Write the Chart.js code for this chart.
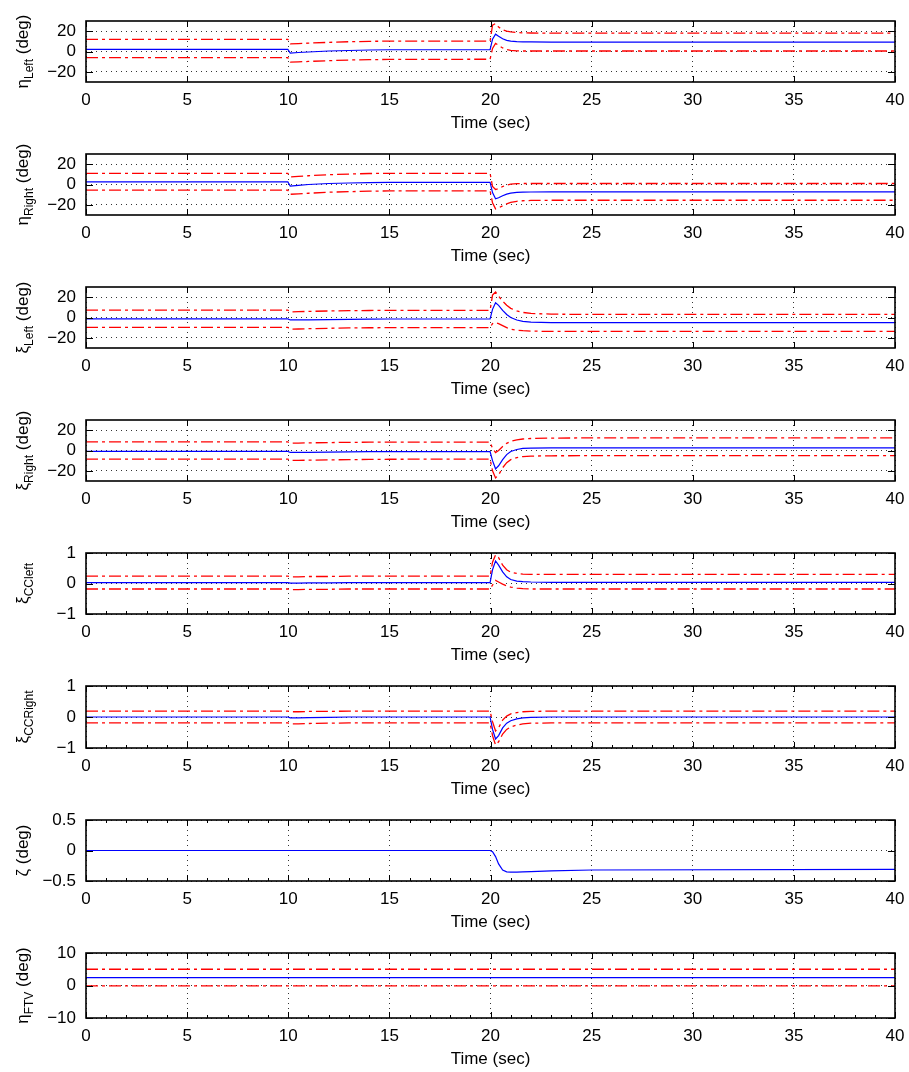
<!DOCTYPE html>
<html>
<head>
<meta charset="utf-8">
<script src="https://cdn.jsdelivr.net/npm/chart.js@4.4.0/dist/chart.umd.min.js"></script>
<style>
  html, body { margin: 0; padding: 0; background: #fff; }
  #wrap { position: relative; width: 909px; height: 1072px; overflow: hidden; }
  #wrap canvas { position: absolute; left: 0; }
</style>
</head>
<body>
<div id="wrap"></div>
<script>
// sample times (sec) shared by every trace
const time = [0, 9.98, 10.1, 10.5, 11, 12, 13, 14, 15, 19.98, 20.1, 20.25, 20.4, 20.6, 20.8, 21, 21.3, 21.6, 22, 23, 25, 40];
const xTicks = [0, 5, 10, 15, 20, 25, 30, 35, 40];

const etaLeft      = [2, 2, -1.5, -1, -0.5, 0.5, 1, 1.5, 1.7, 1.8, 12, 17, 15, 12.5, 11, 10.2, 9.7, 9.5, 9.4, 9.3, 9.3, 9.3];
const etaLeftUpper = [12, 12, 7.5, 7.8, 8.2, 9, 9.6, 10, 10.2, 10.3, 26, 27.5, 24, 21.5, 20, 19.2, 18.6, 18.3, 18.2, 18, 18, 18];
const etaLeftLower = [-6, -6, -10.5, -10.2, -9.8, -9, -8.4, -8, -7.8, -7.6, 3, 8, 6, 3.5, 2, 1.2, 0.7, 0.5, 0.5, 0.5, 0.5, 0.5];

const etaRight      = [2.5, 2.5, -1.5, -0.8, 0, 1, 1.5, 1.8, 2, 2, -8, -14, -13, -11, -9.5, -8.5, -7.8, -7.5, -7.4, -7.3, -7.3, -7.3];
const etaRightUpper = [11, 11, 7.5, 8, 8.6, 9.6, 10.3, 10.8, 11, 11, -2, -5, -4, -2, -0.5, 0.3, 0.8, 1, 1, 1, 1, 1];
const etaRightLower = [-5.6, -5.6, -9.6, -9.2, -8.6, -7.6, -7, -6.6, -6.3, -6.3, -18, -24, -23, -21, -19, -17.5, -16.5, -16, -15.7, -15.5, -15.5, -15.5];

const xiLeft      = [-1.4, -1.4, -2.4, -2.4, -2.3, -2, -1.8, -1.6, -1.5, -1.4, 8, 14.5, 12, 7, 3, 0, -2.5, -3.8, -4.5, -5, -5, -5];
const xiLeftUpper = [7.2, 7.2, 5.6, 5.7, 6, 6.4, 6.7, 6.9, 7, 7.1, 22, 25, 21, 16, 12, 9, 6.5, 5, 4, 3.3, 3, 3];
const xiLeftLower = [-9.8, -9.8, -11.4, -11.3, -11, -10.6, -10.3, -10.1, -10, -9.9, -6, -5, -6, -8, -10, -11.5, -12.5, -13, -13.4, -13.7, -13.7, -13.7];

const xiRight      = [-0.9, -0.9, -1.9, -1.9, -1.8, -1.6, -1.4, -1.2, -1.1, -1, -10, -18, -15, -9, -4, -1, 1, 2, 2.4, 2.5, 2.5, 2.5];
const xiRightUpper = [8.4, 8.4, 7.2, 7.3, 7.5, 7.8, 8, 8.2, 8.3, 8.3, 2, -2, 0, 4, 7, 9, 10.5, 11.3, 11.8, 12.2, 12.4, 12.4];
const xiRightLower = [-8.4, -8.4, -9.8, -9.7, -9.5, -9.2, -9, -8.8, -8.6, -8.5, -20, -27, -24, -17, -12, -9, -7, -6, -5.5, -5.2, -5.1, -5.1];

const xiCCLeft      = [0.03, 0.03, 0.01, 0.01, 0.02, 0.02, 0.03, 0.03, 0.03, 0.03, 0.45, 0.74, 0.6, 0.38, 0.22, 0.13, 0.08, 0.06, 0.05, 0.04, 0.04, 0.04];
const xiCCLeftUpper = [0.24, 0.24, 0.22, 0.22, 0.23, 0.23, 0.24, 0.24, 0.24, 0.24, 0.7, 0.94, 0.85, 0.6, 0.45, 0.37, 0.33, 0.31, 0.3, 0.3, 0.3, 0.3];
const xiCCLeftLower = [-0.18, -0.18, -0.2, -0.2, -0.19, -0.19, -0.18, -0.18, -0.18, -0.18, -0.05, 0.1, 0.05, -0.02, -0.08, -0.12, -0.15, -0.17, -0.18, -0.18, -0.18, -0.18];

const xiCCRight      = [0, 0, -0.03, -0.03, -0.02, -0.01, 0, 0, 0, 0, -0.4, -0.71, -0.6, -0.35, -0.2, -0.12, -0.06, -0.03, -0.01, 0, 0, 0];
const xiCCRightUpper = [0.19, 0.19, 0.17, 0.17, 0.18, 0.18, 0.19, 0.19, 0.19, 0.19, -0.15, -0.45, -0.35, -0.1, 0.03, 0.1, 0.14, 0.17, 0.18, 0.19, 0.19, 0.19];
const xiCCRightLower = [-0.19, -0.19, -0.22, -0.22, -0.21, -0.2, -0.19, -0.19, -0.19, -0.19, -0.6, -0.9, -0.8, -0.55, -0.4, -0.32, -0.26, -0.22, -0.2, -0.19, -0.19, -0.19];

const zeta = [0, 0, 0, 0, 0, 0, 0, 0, 0, 0, -0.02, -0.1, -0.22, -0.32, -0.35, -0.355, -0.355, -0.35, -0.345, -0.335, -0.32, -0.31];

const etaFTV      = [2.4, 2.4, 2.4, 2.4, 2.4, 2.4, 2.4, 2.4, 2.4, 2.4, 2.4, 2.4, 2.4, 2.4, 2.4, 2.4, 2.4, 2.4, 2.4, 2.4, 2.4, 2.4];
const etaFTVUpper = [5, 5, 5, 5, 5, 5, 5, 5, 5, 5, 5, 5, 5, 5, 5, 5, 5, 5, 5, 5, 5, 5];
const etaFTVLower = [-0.1, -0.1, -0.1, -0.1, -0.1, -0.1, -0.1, -0.1, -0.1, -0.1, -0.1, -0.1, -0.1, -0.1, -0.1, -0.1, -0.1, -0.1, -0.1, -0.1, -0.1, -0.1];

const panels = [
  { label: ['η', 'Left', ' (deg)'],  range: [-30, 30], yTicks: [-20, 0, 20], signal: etaLeft, upper: etaLeftUpper, lower: etaLeftLower },
  { label: ['η', 'Right', ' (deg)'], range: [-30, 30], yTicks: [-20, 0, 20], signal: etaRight, upper: etaRightUpper, lower: etaRightLower },
  { label: ['ξ', 'Left', ' (deg)'],  range: [-30, 30], yTicks: [-20, 0, 20], signal: xiLeft, upper: xiLeftUpper, lower: xiLeftLower },
  { label: ['ξ', 'Right', ' (deg)'], range: [-30, 30], yTicks: [-20, 0, 20], signal: xiRight, upper: xiRightUpper, lower: xiRightLower },
  { label: ['ξ', 'CCleft', ''],      range: [-1, 1], yTicks: [-1, 0, 1], signal: xiCCLeft, upper: xiCCLeftUpper, lower: xiCCLeftLower, minor: true },
  { label: ['ξ', 'CCRight', ''],     range: [-1, 1], yTicks: [-1, 0, 1], signal: xiCCRight, upper: xiCCRightUpper, lower: xiCCRightLower, minor: true },
  { label: ['ζ', '', ' (deg)'],      range: [-0.5, 0.5], yTicks: [-0.5, 0, 0.5], signal: zeta, minor: true },
  { label: ['η', 'FTV', ' (deg)'],   range: [-10, 10], yTicks: [-10, 0, 10], signal: etaFTV, upper: etaFTVUpper, lower: etaFTVLower, minor: true }
];

// layout
const plotTops = [21, 154, 287, 420, 553, 686, 820, 953];
const plotHeights = [61, 61, 61, 61, 61, 62, 61, 65];
const PAD_TOP = 14, X_AXIS_H = 57, Y_AXIS_W = 86;
const FONT = '"Liberation Sans", Arial, Helvetica, sans-serif';

Chart.defaults.font.family = FONT;
Chart.defaults.font.size = 17;
Chart.defaults.color = '#000';

const fmt = v => String(v).replace('-', '\u2212');

// MATLAB style box, inward ticks and the subscripted y label
const axesBox = {
  id: 'axesBox',
  afterDraw(chart, args, opts) {
    const { ctx, chartArea: a, scales: { x, y } } = chart;
    ctx.save();
    ctx.strokeStyle = '#000';
    ctx.lineWidth = 1;
    ctx.beginPath();
    x.ticks.forEach(t => {
      const px = Math.round(x.getPixelForValue(t.value)) + 0.5;
      ctx.moveTo(px, a.bottom); ctx.lineTo(px, a.bottom - 6);
      ctx.moveTo(px, a.top); ctx.lineTo(px, a.top + 6);
    });
    y.ticks.forEach(t => {
      const py = Math.round(y.getPixelForValue(t.value)) + 0.5;
      ctx.moveTo(a.left, py); ctx.lineTo(a.left + 7, py);
      ctx.moveTo(a.right, py); ctx.lineTo(a.right - 7, py);
    });
    if (opts.minor) {
      for (let v = 1; v < 40; v++) {
        if (v % 5 === 0) continue;
        const px = Math.round(x.getPixelForValue(v)) + 0.5;
        ctx.moveTo(px, a.bottom); ctx.lineTo(px, a.bottom - 3);
        ctx.moveTo(px, a.top); ctx.lineTo(px, a.top + 3);
      }
    }
    ctx.stroke();
    ctx.lineWidth = 1.6;
    ctx.strokeRect(a.left, a.top, a.right - a.left, a.bottom - a.top);

    const [main, sub, rest] = opts.label;
    ctx.fillStyle = '#000';
    ctx.textBaseline = 'alphabetic';
    ctx.translate(28, (a.top + a.bottom) / 2);
    ctx.rotate(-Math.PI / 2);
    ctx.font = '17px ' + FONT;
    const w1 = ctx.measureText(main).width, w3 = ctx.measureText(rest).width;
    ctx.font = '12px ' + FONT;
    const w2 = ctx.measureText(sub).width;
    let sx = -(w1 + w2 + w3) / 2;
    ctx.font = '17px ' + FONT;
    ctx.fillText(main, sx, 0);
    ctx.font = '12px ' + FONT;
    ctx.fillText(sub, sx + w1, 5);
    ctx.font = '17px ' + FONT;
    ctx.fillText(rest, sx + w1 + w2, 0);
    ctx.restore();
  }
};

const wrap = document.getElementById('wrap');

panels.forEach((p, i) => {
  const canvas = document.createElement('canvas');
  const h = PAD_TOP + plotHeights[i] + X_AXIS_H;
  canvas.width = 909;
  canvas.height = h;
  canvas.style.top = (plotTops[i] - PAD_TOP) + 'px';
  wrap.appendChild(canvas);

  const pts = arr => time.map((t, k) => ({ x: t, y: arr[k] }));
  const redDash = [12, 4, 3, 4];
  const datasets = [];
  if (p.upper) {
    datasets.push({ data: pts(p.upper), borderColor: '#ff0000', borderWidth: 1.3, borderDash: redDash });
    datasets.push({ data: pts(p.lower), borderColor: '#ff0000', borderWidth: 1.3, borderDash: redDash });
  }
  datasets.push({ data: pts(p.signal), borderColor: '#0000ff', borderWidth: 1.2 });

  new Chart(canvas.getContext('2d'), {
    type: 'line',
    data: { datasets },
    plugins: [axesBox],
    options: {
      responsive: false,
      animation: false,
      devicePixelRatio: 1,
      layout: { padding: { top: PAD_TOP, right: 14, left: 0, bottom: 0 } },
      elements: { point: { radius: 0 }, line: { tension: 0 } },
      plugins: {
        legend: { display: false },
        tooltip: { enabled: false },
        axesBox: { label: p.label, minor: !!p.minor }
      },
      scales: {
        x: {
          type: 'linear', min: 0, max: 40,
          afterBuildTicks: s => { s.ticks = xTicks.map(v => ({ value: v })); },
          afterFit: s => { s.height = X_AXIS_H; s.paddingLeft = 0; s.paddingRight = 0; },
          ticks: { padding: 8, maxRotation: 0, callback: fmt },
          grid: { color: '#000', lineWidth: 0.8, drawTicks: false },
          border: { display: false, dash: [1, 4] },
          title: { display: true, text: 'Time (sec)', padding: { top: 0, bottom: 5 } }
        },
        y: {
          type: 'linear', min: p.range[0], max: p.range[1],
          afterBuildTicks: s => { s.ticks = p.yTicks.map(v => ({ value: v })); },
          afterFit: s => { s.width = Y_AXIS_W; s.paddingTop = 0; s.paddingBottom = 0; },
          ticks: { padding: 10, callback: fmt },
          grid: { color: '#000', lineWidth: 0.8, drawTicks: false },
          border: { display: false, dash: [1, 4] }
        }
      }
    }
  });
});
</script>
</body>
</html>
